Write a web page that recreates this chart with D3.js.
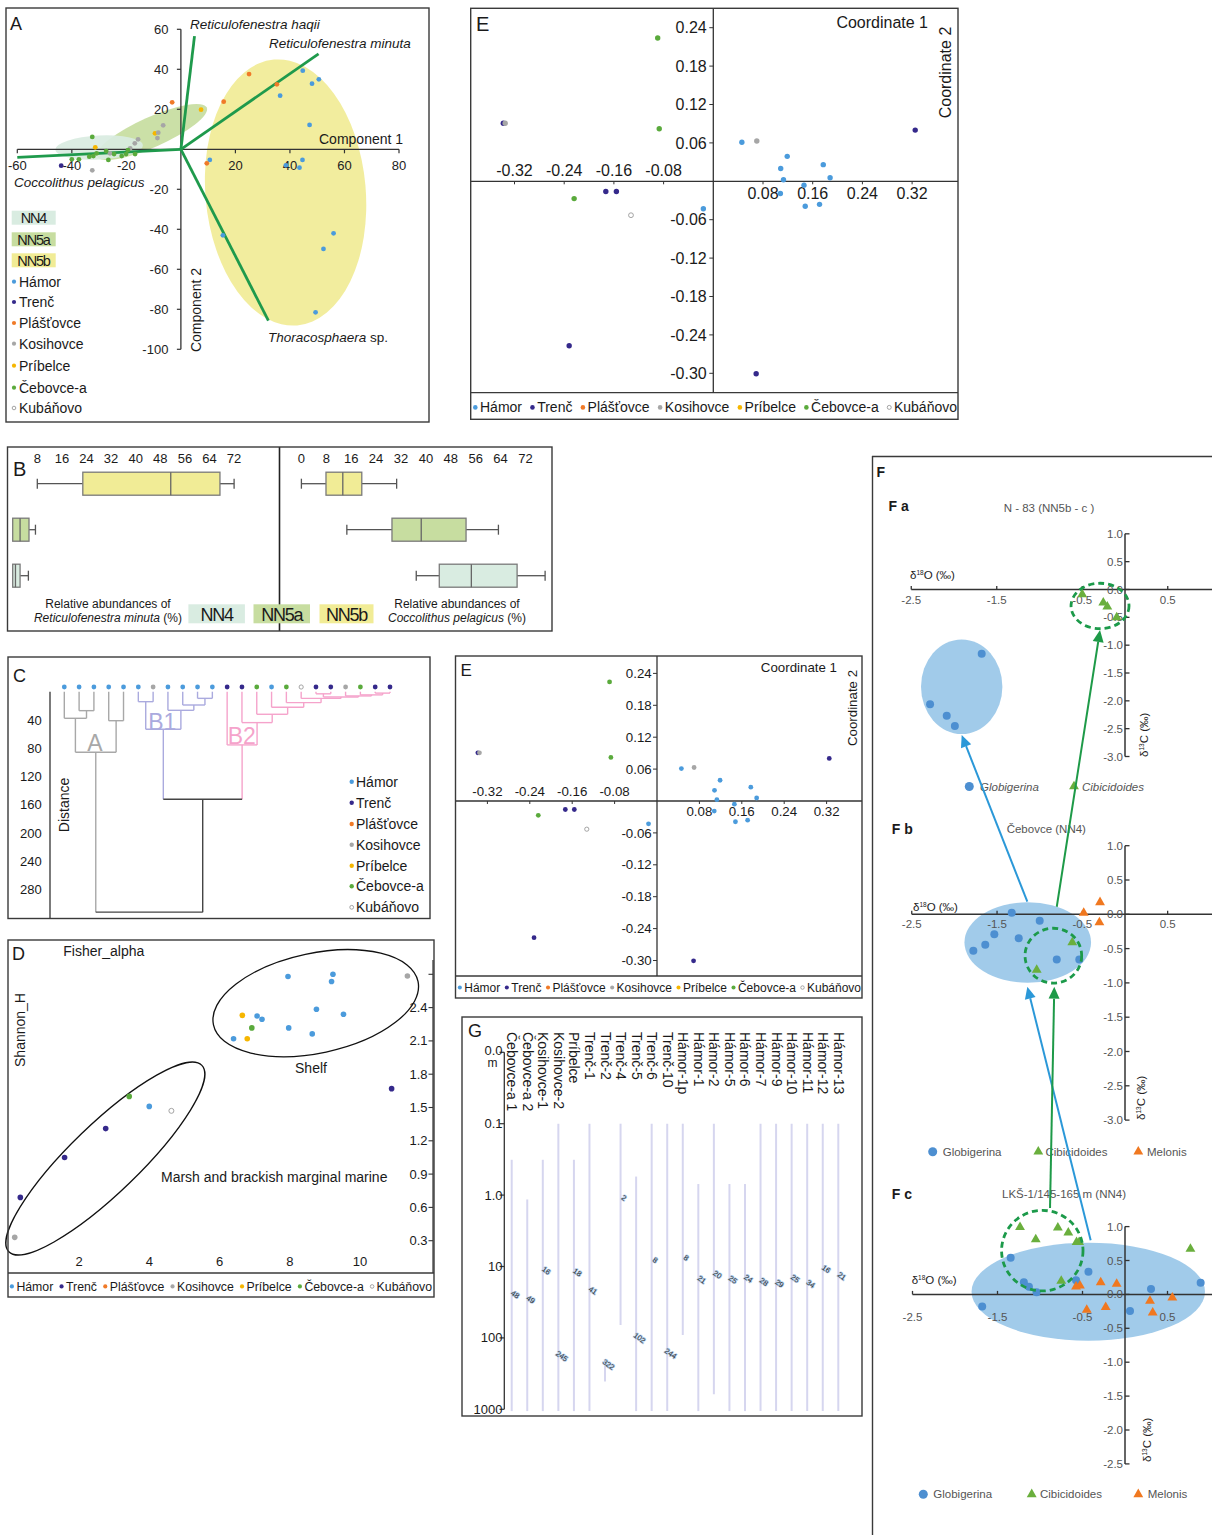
<!DOCTYPE html>
<html><head><meta charset="utf-8">
<script src="https://cdn.jsdelivr.net/npm/d3@7"></script>
<style>
body{margin:0;background:#fff;}
svg{display:block;font-family:"Liberation Sans",Arial,Helvetica,sans-serif;}
</style></head><body>
<svg id="fig" width="1212" height="1535"></svg>
<script>
// ================= DATA =================
const sites = ["Hámor","Trenč","Plášťovce","Kosihovce","Príbelce","Čebovce-a","Kubáňovo"];
const siteColors = ["#4b9bdc","#35298b","#f07a28","#a6a6a6","#f6b600","#5aaa3c","#ffffff"];
const zoneNames = ["NN4","NN5a","NN5b"];
const zoneColors = ["#d9ece1","#c7dda0","#f1ec96"];

// Panel A – PCA scores
const aSite = ["Hámor","Hámor","Hámor","Hámor","Hámor","Hámor","Hámor","Hámor","Hámor","Hámor","Hámor","Hámor","Hámor",
  "Plášťovce","Plášťovce","Plášťovce","Plášťovce","Plášťovce",
  "Príbelce","Príbelce","Príbelce",
  "Kosihovce","Kosihovce","Kosihovce","Kosihovce","Kosihovce","Kosihovce","Kosihovce","Kosihovce",
  "Trenč",
  "Čebovce-a","Čebovce-a","Čebovce-a","Čebovce-a","Čebovce-a","Čebovce-a","Čebovce-a","Čebovce-a","Čebovce-a","Čebovce-a","Čebovce-a","Čebovce-a","Čebovce-a"];
const aPC1 = [44.7,50.6,48.1,36.4,47.2,10.6,44.6,43.5,56,52.3,49.4,15.4,38.5,
  -3.2,25,35.2,15.7,9.5,
  7.4,-9.5,-31.4,
  -6.5,-8.3,-8.6,-15.7,-16.9,-18.6,-32.5,-26,
  -43.9,
  -32.5,-40,-37.4,-33.6,-32.1,-30.9,-27.4,-26.6,-24.5,-21.7,-20.1,-19.4,-16.8];
const aPC2 = [39.3,35,32.8,26.8,12.2,-5.3,-5.3,-9.2,-42,-49.8,-81.5,-43,-8,
  23.5,37.6,32.5,23.8,-7,
  19.8,8,1,
  12,8.3,5.6,5,3,0.5,-10.5,-2,
  -8.2,
  6.2,-5,-5,-3.7,-3.4,-2,-0.9,-5.3,-2.4,-3.4,-2.4,-0.4,-2.4];
const aVecName = ["Reticulofenestra haqii","Reticulofenestra minuta","Thoracosphaera sp.","Coccolithus pelagicus"];
const aVecX = [5, 50.5, 32.1, -60];
const aVecY = [56.6, 47.7, -85.7, -4];
// zone ellipses in PCA units: centre x, centre y, half-width, half-height, tilt (deg)
const aZoneCx = [-30, -10.6, 38.4];
const aZoneCy = [0.9, 8.65, -21.6];
const aZoneRx = [16.1, 22, 29.4];
const aZoneRy = [6, 7.5, 66.7];
const aZoneTilt = [-3, -24, -5];
const aXTicks = [-60,-40,-20,20,40,60,80];
const aYTicks = [60,40,20,-20,-40,-60,-80,-100];

// Panel B – box plots [min, q1, median, q3, max]
const bZones = ["NN5b","NN5a","NN4"];
const bMinuta = [[8,22.8,51.4,67.4,72],[0,0,2.4,5.3,7.4],[0,0,0.9,2.4,5.1]];
const bPelagicus = [[0,7.9,13.3,19.4,30.6],[14.6,29.1,38.5,52.9,63.3],[36.9,44.3,54.6,69.3,78.3]];
const bLeftTicks = [8,16,24,32,40,48,56,64,72];
const bRightTicks = [0,8,16,24,32,40,48,56,64,72];

// Panel C – cluster dendrogram
const cLeafSite = ["Hámor","Hámor","Hámor","Hámor","Hámor","Hámor","Kosihovce","Hámor","Hámor","Hámor","Hámor",
  "Trenč","Trenč","Čebovce-a","Hámor","Čebovce-a","Kubáňovo","Trenč","Trenč","Kosihovce","Čebovce-a","Trenč","Trenč"];
// merges: [child a, child b, distance, cluster]; node ids 23+ follow in order
const cMerges = [
  [1,2,26.8,"A"],[0,23,37.6,"A"],[3,4,41,"A"],[24,25,85.6,"A"],
  [5,6,14.1,"B1"],[9,10,9.4,"B1"],[8,28,18.8,"B1"],[7,29,26.3,"B1"],[27,30,53.1,"B1"],
  [17,18,3,"B2"],[21,22,2,"B2"],[20,33,4.5,"B2"],[19,34,6,"B2"],[32,35,7.5,"B2"],[16,36,9.5,"B2"],
  [15,37,15.5,"B2"],[14,38,22,"B2"],[13,39,31.9,"B2"],[12,40,43.7,"B2"],[11,41,75.2,"B2"],
  [31,42,152,"root"],[26,43,311.6,"root"]];
const cGroups = ["A","B1","B2","root"];
const cGroupColors = ["#a8a8a8","#aaaade","#f5a3cb","#444444"];
const cTicks = [40,80,120,160,200,240,280];

// Panel D – diversity
const dSite = ["Hámor","Hámor","Hámor","Kosihovce","Hámor","Hámor","Príbelce","Hámor","Hámor","Čebovce-a","Hámor","Hámor","Hámor","Príbelce",
  "Trenč","Čebovce-a","Hámor","Kubáňovo","Trenč","Trenč","Trenč","Kosihovce"];
const dFisher = [7.95,9.23,9.19,11.35,8.76,9.53,6.65,7.07,7.21,6.92,7.97,8.64,6.40,6.79,10.9,3.43,4.0,4.63,2.76,1.59,0.33,0.17];
const dShannon = [2.68,2.70,2.635,2.685,2.385,2.34,2.33,2.325,2.295,2.217,2.217,2.163,2.12,2.12,1.67,1.60,1.51,1.47,1.31,1.05,0.69,0.33];
const dXTicks = [2,4,6,8,10];
const dYTicks = [0.3,0.6,0.9,1.2,1.5,1.8,2.1,2.4,2.7];
const dGroupName = ["Shelf","Marsh and brackish marginal marine"];
const dGroupCx = [8.74, 2.75];
const dGroupCy = [2.44, 1.04];
const dGroupRx = [2.977, 3.82];
const dGroupRy = [0.45, 0.31];
const dGroupTilt = [-12, -44];

// Panel E – PCoA
const eSite = ["Trenč","Kosihovce","Čebovce-a","Čebovce-a","Hámor","Kosihovce","Hámor","Hámor","Hámor","Hámor","Hámor","Hámor","Hámor","Hámor","Hámor",
  "Trenč","Trenč","Trenč","Čebovce-a","Kubáňovo","Hámor","Trenč","Trenč"];
const eX = [-0.338,-0.335,-0.0895,-0.087,0.046,0.070,0.119,0.1085,0.113,0.177,0.188,0.146,0.108,0.148,0.171,0.325,-0.173,-0.156,-0.224,-0.1325,-0.016,-0.232,0.069];
const eY = [0.0906,0.0906,0.224,0.082,0.061,0.063,0.039,0.020,0.0025,0.026,0.0056,-0.006,-0.019,-0.039,-0.036,0.080,-0.016,-0.016,-0.027,-0.053,-0.043,-0.257,-0.3006];
const eXTicksNeg = [-0.32,-0.24,-0.16,-0.08];
const eXTicksPos = [0.08,0.16,0.24,0.32];
const eYTicks = [0.24,0.18,0.12,0.06,-0.06,-0.12,-0.18,-0.24,-0.30];

// Panel G – ranges on log depth scale
const gSamples = ["Čebovce-a 1","Čebovce-a 2","Kosihovce-1","Kosihovce-2","Príbelce","Trenč-1","Trenč-2","Trenč-4","Trenč-5","Trenč-6","Trenč-10",
  "Hámor-1p","Hámor-1","Hámor-2","Hámor-5","Hámor-6","Hámor-7","Hámor-9","Hámor-10","Hámor-11","Hámor-12","Hámor-13"];
const gTop = [0.32,1.15,0.32,0.1,0.32,0.1,215,0.1,0.55,0.1,0.1,0.1,0.7,0.1,0.7,0.7,0.1,0.1,0.1,0.1,0.1,0.1];
const gBottom = [1060,1060,1060,1060,1060,1060,408,66,1060,1060,1060,91,1060,617,1060,1060,1060,1060,1060,1060,1060,1060];
const gCount = ["48","49","16","245","18","41","322","2","102","8","244","8","21","20","25","24","28","29","25","34","16","21"];
const gCountDepth = [26.4,31,12.2,193,12.9,23.2,253,1.17,107,8.7,177,8.1,16.3,13.9,16.3,15.8,17.6,18.5,15.8,18.7,11.6,14.6];
const gTickVals = [0.01,0.1,1,10,100,1000];
const gTickLabels = ["0.0","0.1","1.0","10","100","1000"];

// Panel F – stable isotopes (δ18O, δ13C)
const faGlobX = [-1.676,-2.28,-2.085,-1.99];
const faGlobY = [-1.153,-2.06,-2.27,-2.45];
const faCibX = [-0.5,-0.254,-0.207,-0.097];
const faCibY = [-0.086,-0.237,-0.309,-0.5];
const fbGlobX = [-1.328,-1.0,-1.532,-1.246,-1.638,-1.778,-0.80,-0.536];
const fbGlobY = [0.023,-0.093,-0.29,-0.35,-0.443,-0.53,-0.66,-0.66];
const fbCibX = [-0.618,-1.035];
const fbCibY = [-0.41,-0.81];
const fbMelX = [-0.293,-0.484,-0.3];
const fbMelY = [0.175,0.02,-0.117];
const fcGlobX = [-1.345,-0.43,-1.19,-1.13,-1.04,-0.576,-1.68,0.306,0.059,0.89];
const fcGlobY = [0.54,0.335,0.178,0.114,0.03,0.208,-0.18,0.08,-0.245,0.173];
const fcCibX = [-1.235,-0.79,-0.667,-1.05,-0.57,-0.54,-0.75,0.77];
const fcCibY = [0.99,0.985,0.91,0.81,0.77,0.77,0.2,0.67];
const fcMelX = [-0.576,-0.53,-0.286,-0.098,-0.45,-0.227,0.294,0.326,0.557];
const fcMelY = [0.114,0.13,0.178,0.153,-0.23,-0.19,-0.097,-0.27,-0.049];
const fTitles = ["N - 83 (NN5b - c )","Čebovce (NN4)","LKŠ-1/145-165 m (NN4)"];
const fXTicks = [-2.5,-1.5,-0.5,0.5];
// zones per sub-plot a,b,c: [cx, cy, rx, ry] in ‰ units
const fGlobZone = [[-1.91,-1.746,0.476,0.85],[-1.14,-0.411,0.742,0.586],[-0.432,0.04,1.373,0.723]];
const fCibZone = [[-0.292,-0.296,0.339,0.408],[-0.84,-0.603,0.332,0.40],[-0.973,0.645,0.479,0.594]];

// ================= DRAWING =================
const svg = d3.select("#fig");
const INK = "#1a1a1a";

function colorOf(site){ return siteColors[sites.indexOf(site)]; }
function drawDot(g, x, y, site, r){
  const hollow = site === "Kubáňovo";
  g.append("circle").attr("cx",x).attr("cy",y).attr("r",hollow ? r-0.3 : r)
    .attr("fill", hollow ? "#fff" : colorOf(site))
    .attr("stroke", hollow ? "#9a9a9a" : "none").attr("stroke-width",0.9);
}
function txt(g, x, y, s, size, o){
  o = o || {};
  const t = g.append("text").attr("x",x).attr("y",y).attr("font-size",size)
    .attr("fill", o.fill || INK).text(s);
  if(o.anchor) t.attr("text-anchor",o.anchor);
  if(o.italic) t.attr("font-style","italic");
  if(o.bold) t.attr("font-weight","bold");
  if(o.ls != null) t.attr("letter-spacing",o.ls);
  if(o.rotate != null) t.attr("transform",`rotate(${o.rotate},${x},${y})`);
  return t;
}
function line(g,x1,y1,x2,y2,color,w){
  return g.append("line").attr("x1",x1).attr("y1",y1).attr("x2",x2).attr("y2",y2)
    .attr("stroke",color||"#333").attr("stroke-width",w||1.2);
}
function frame(x0,y0,x1,y1){
  svg.append("rect").attr("x",x0).attr("y",y0).attr("width",x1-x0).attr("height",y1-y0)
    .attr("fill","none").attr("stroke","#3a3a3a").attr("stroke-width",1.4);
}
function legendRow(g, x0, x1, base, size, r){
  const items = sites.map(s => {
    const t = txt(g, 0, base, s, size);
    return {s, t, w: t.node().getComputedTextLength()};
  });
  const sumW = d3.sum(items, d => d.w);
  const firstText = x0 + 2*r + 3.2;
  const gap = (x1 - firstText - sumW) / (items.length - 1);
  let xs = firstText;
  items.forEach((d,i) => {
    d.t.attr("x", xs);
    drawDot(g, xs - r - 2.4, base - size*0.33, d.s, r);
    xs += d.w + gap;
  });
}

// ---------- Panel A ----------
(function(){
  const g = svg.append("g");
  frame(6,8,429,422);
  const x = d3.scaleLinear().domain([-60,80]).range([17.3,399]);
  const y = d3.scaleLinear().domain([-100,60]).range([349.3,29.3]);
  const kx = x(1)-x(0), ky = y(0)-y(1);
  [2,1,0].forEach(i => {
    const cx = x(aZoneCx[i]), cy = y(aZoneCy[i]);
    g.append("ellipse").attr("cx",cx).attr("cy",cy)
      .attr("rx",aZoneRx[i]*kx).attr("ry",aZoneRy[i]*ky)
      .attr("transform",`rotate(${aZoneTilt[i]},${cx},${cy})`)
      .attr("fill",zoneColors[i]).attr("opacity",0.92);
  });
  const x0 = x(0), y0 = y(0);
  line(g, x(-60), y0, x(80), y0, "#333", 1.3);
  aXTicks.forEach(v => {
    line(g, x(v), y0, x(v), y0+4, "#333", 1.2);
    txt(g, x(v), y0+20.5, String(v), 13, {anchor:"middle", fill:"#222"});
  });
  line(g, x0, y(60), x0, y(-100), "#333", 1.3);
  aYTicks.forEach(v => {
    line(g, x0-4, y(v), x0, y(v), "#333", 1.2);
    txt(g, x0-12.5, y(v)+4.5, String(v), 13, {anchor:"end", fill:"#222"});
  });
  aVecX.forEach((vx,i) => line(g, x0, y0, x(vx), y(aVecY[i]), "#1f9a4c", 2.8));
  aSite.forEach((s,i) => drawDot(g, x(aPC1[i]), y(aPC2[i]), s, 2.4));
  txt(g, 10, 30, "A", 18);
  txt(g, 190, 29, aVecName[0], 13.5, {italic:true});
  txt(g, 269, 48, aVecName[1], 13.5, {italic:true});
  const th = txt(g, 268, 341.5, "", 13.5);
  th.append("tspan").attr("font-style","italic").text("Thoracosphaera");
  th.append("tspan").text(" sp.");
  txt(g, 14, 187, aVecName[3], 13.5, {italic:true});
  txt(g, 319, 143.5, "Component 1", 14);
  txt(g, 200.5, 310, "Component 2", 14, {anchor:"middle", rotate:-90});
  const patchY = [210.7, 232.3, 253.3];
  zoneNames.forEach((z,i) => {
    g.append("rect").attr("x",11.7).attr("y",patchY[i]).attr("width",44).attr("height",14)
      .attr("fill",zoneColors[i]);
    txt(g, 33.5, patchY[i]+12.3, z, 14.5, {anchor:"middle", ls:-1.2});
  });
  const legY = [281.7,302,323,343.7,365.7,387.7,408];
  sites.forEach((s,i) => {
    drawDot(g, 14, legY[i], s, 2.1);
    txt(g, 19, legY[i]+5, s, 14);
  });
})();

// ---------- Panel E (used twice) ----------
function drawE(c){
  const g = svg.append("g");
  frame(c.fx0, c.fy0, c.fx1, c.fy1);
  const x = d3.scaleLinear().domain([0,0.08]).range([c.ox, c.ox + c.k8]);
  const y = d3.scaleLinear().domain([0,0.06]).range([c.oy, c.oy - c.k6]);
  line(g, c.fx0, c.legY, c.fx1, c.legY, "#3a3a3a", 1.3);
  line(g, c.fx0, c.oy, c.fx1, c.oy, "#333", 1.3);
  line(g, c.ox, c.fy0, c.ox, c.legY, "#333", 1.3);
  eXTicksNeg.forEach(v => {
    line(g, x(v), c.oy, x(v), c.oy+3, "#333", 1);
    txt(g, x(v), c.oy + c.negDy, v.toFixed(2), c.fs, {anchor:"middle"});
  });
  eXTicksPos.forEach(v => {
    line(g, x(v), c.oy, x(v), c.oy+3, "#333", 1);
    txt(g, x(v), c.oy + c.posDy, v.toFixed(2), c.fs, {anchor:"middle"});
  });
  eYTicks.forEach(v => {
    line(g, c.ox-4, y(v), c.ox, y(v), "#333", 1);
    txt(g, c.ox - c.yLabDx, y(v) + c.fs*0.35, v.toFixed(2), c.fs, {anchor:"end"});
  });
  eSite.forEach((s,i) => drawDot(g, x(eX[i]), y(eY[i]), s, c.r));
  txt(g, c.eX, c.eY, "E", c.eFs);
  txt(g, c.c1X, c.c1Y, "Coordinate 1", c.cFs, {anchor:"end"});
  txt(g, c.c2X, c.c2Y, "Coordinate 2", c.cFs, {anchor:"middle", rotate:-90});
  legendRow(g, c.fx0 + 1.5, c.fx1 - 1, c.legBase, c.legFs, c.r*0.85);
}
drawE({fx0:470.7, fy0:8.3, fx1:958, fy1:419.3, legY:392.7, ox:713.3, oy:181.3, k8:49.7, k6:38.4,
  fs:16, negDy:-5.5, posDy:18, yLabDx:6.6, r:2.7, eX:476, eY:30.5, eFs:20,
  c1X:928, c1Y:27.5, c2X:950.5, c2Y:72.5, cFs:16, legBase:412, legFs:14});
drawE({fx0:455.5, fy0:656, fx1:862, fy1:998, legY:976, ox:657, oy:801, k8:42.4, k6:31.9,
  fs:13.3, negDy:-5.5, posDy:15, yLabDx:5.3, r:2.4, eX:460.5, eY:676, eFs:17,
  c1X:837, c1Y:672, c2X:856.5, c2Y:708, cFs:13.3, legBase:991.5, legFs:12});

// ---------- Panel B ----------
(function(){
  const g = svg.append("g");
  frame(7.5,447,552,631);
  line(g, 279.5, 447, 279.5, 631, "#222", 1.6);
  const band = d3.scaleBand().domain(bZones).range([460.7,598.7]).paddingInner(0.5).paddingOuter(0.25);
  const xl = d3.scaleLinear().domain([0,8]).range([12.7,37.3]);
  const xr = d3.scaleLinear().domain([0,8]).range([301.4,326.3]);
  function boxes(x, stats){
    bZones.forEach((z,i) => {
      const s = stats[i];
      const y0 = band(z), h = band.bandwidth(), yc = y0 + h/2;
      const col = zoneColors[zoneNames.indexOf(z)];
      if(s[0] < s[1]){
        line(g, x(s[0]), yc, x(s[1]), yc, "#555", 1.3);
        line(g, x(s[0]), yc-5, x(s[0]), yc+5, "#555", 1.3);
      }
      line(g, x(s[3]), yc, x(s[4]), yc, "#555", 1.3);
      line(g, x(s[4]), yc-5, x(s[4]), yc+5, "#555", 1.3);
      g.append("rect").attr("x",x(s[1])).attr("y",y0).attr("width",x(s[3])-x(s[1])).attr("height",h)
        .attr("fill",col).attr("stroke","#7a7a7a").attr("stroke-width",1.3);
      line(g, x(s[2]), y0, x(s[2]), y0+h, "#666", 1.3);
    });
  }
  boxes(xl, bMinuta);
  boxes(xr, bPelagicus);
  bLeftTicks.forEach(v => txt(g, xl(v), 463, String(v), 13, {anchor:"middle"}));
  bRightTicks.forEach(v => txt(g, xr(v), 463, String(v), 13, {anchor:"middle"}));
  txt(g, 13, 476, "B", 20);
  txt(g, 108, 607.5, "Relative abundances of", 12, {anchor:"middle"});
  const t1 = txt(g, 108, 622, "", 12, {anchor:"middle"});
  t1.append("tspan").attr("font-style","italic").text("Reticulofenestra minuta");
  t1.append("tspan").text(" (%)");
  txt(g, 457, 607.5, "Relative abundances of", 12, {anchor:"middle"});
  const t2 = txt(g, 457, 622, "", 12, {anchor:"middle"});
  t2.append("tspan").attr("font-style","italic").text("Coccolithus pelagicus");
  t2.append("tspan").text(" (%)");
  const px = [188.4, 253.5, 319.5], pw = [56.5, 56.5, 54];
  zoneNames.forEach((z,i) => {
    g.append("rect").attr("x",px[i]).attr("y",604.3).attr("width",pw[i]).attr("height",19)
      .attr("fill",zoneColors[i]);
    txt(g, px[i]+pw[i]/2, 620.5, z, 18, {anchor:"middle", ls:-1.2});
  });
})();

// ---------- Panel C ----------
(function(){
  const g = svg.append("g");
  frame(8,657,430,918.5);
  const y = d3.scaleLinear().domain([0,40]).range([691.7,720]);
  const xl = d3.scalePoint().domain(d3.range(cLeafSite.length)).range([64.3,390]);
  const n = cLeafSite.length;
  const pos = [], hgt = [], grp = [];
  for(let i=0;i<n;i++){ pos[i] = xl(i); hgt[i] = 0; grp[i] = null; }
  const colOf = gname => cGroupColors[cGroups.indexOf(gname)];
  cMerges.forEach((m,j) => {
    const id = n + j;
    pos[id] = (pos[m[0]] + pos[m[1]])/2; hgt[id] = m[2]; grp[id] = m[3];
  });
  cMerges.forEach((m,j) => {
    const id = n + j, col = colOf(m[3]);
    [m[0], m[1]].forEach(ch => {
      const cc = grp[ch] ? colOf(grp[ch]) : col;
      line(g, pos[ch], y(hgt[ch]), pos[ch], y(hgt[id]), cc, 1.4);
    });
    line(g, pos[m[0]], y(hgt[id]), pos[m[1]], y(hgt[id]), col, 1.4);
  });
  cLeafSite.forEach((s,i) => drawDot(g, xl(i), 687, s, 2.4));
  line(g, 50, 691.7, 50, 918.5, "#333", 1.3);
  cTicks.forEach(v => txt(g, 41.7, y(v)+4.5, String(v), 13, {anchor:"end"}));
  txt(g, 68.5, 805, "Distance", 14, {anchor:"middle", rotate:-90});
  txt(g, 13, 682, "C", 18);
  txt(g, 95, 751, "A", 23, {anchor:"middle", fill:colOf("A")});
  txt(g, 162.3, 729.8, "B1", 23, {anchor:"middle", fill:colOf("B1")});
  txt(g, 241.7, 744.2, "B2", 23, {anchor:"middle", fill:colOf("B2")});
  const legY = [781.7,802.7,824,844.7,865.7,886.3,907.3];
  sites.forEach((s,i) => {
    drawDot(g, 351.7, legY[i], s, 2.2);
    txt(g, 356, legY[i]+5, s, 14);
  });
})();

// ---------- Panel D ----------
(function(){
  const g = svg.append("g");
  frame(8,940,434,1297);
  line(g, 8, 1273, 434, 1273, "#3a3a3a", 1.3);
  const x = d3.scaleLinear().domain([0,2]).range([8.75,79]);
  const y = d3.scaleLinear().domain([0,0.3]).range([1274,1240.7]);
  const kx = x(1)-x(0), ky = y(0)-y(1);
  dGroupName.forEach((nm,i) => {
    const cx = x(dGroupCx[i]), cy = y(dGroupCy[i]);
    g.append("ellipse").attr("cx",cx).attr("cy",cy).attr("rx",dGroupRx[i]*kx).attr("ry",dGroupRy[i]*ky)
      .attr("transform",`rotate(${dGroupTilt[i]},${cx},${cy})`)
      .attr("fill","none").attr("stroke","#111").attr("stroke-width",1.3);
  });
  line(g, 433, 960, 433, 1273, "#333", 1.2);
  dYTicks.forEach(v => {
    line(g, 428.5, y(v), 433, y(v), "#333", 1.1);
    if(v < 2.6) txt(g, 427.5, y(v)+4.5, v.toFixed(1), 13, {anchor:"end"});
  });
  dXTicks.forEach(v => txt(g, x(v), 1266, String(v), 13, {anchor:"middle"}));
  dSite.forEach((s,i) => drawDot(g, x(dFisher[i]), y(dShannon[i]), s, 2.8));
  txt(g, 12, 959.5, "D", 18);
  txt(g, 63.3, 956, "Fisher_alpha", 14);
  txt(g, 25, 1030, "Shannon_H", 14, {anchor:"middle", rotate:-90});
  txt(g, 311, 1073, dGroupName[0], 14, {anchor:"middle"});
  txt(g, 161, 1182, dGroupName[1], 14);
  legendRow(g, 9, 432, 1290.5, 12.3, 2.1);
})();

// ---------- Panel G ----------
(function(){
  const g = svg.append("g");
  frame(462,1017,862,1416);
  const y = d3.scaleLog().domain([0.01,1000]).range([1052.3,1409.3]);
  const x = d3.scalePoint().domain(gSamples).range([511.7,838.3]);
  line(g, 504.3, y(0.01), 504.3, y(1000), "#333", 1.3);
  gTickVals.forEach((v,i) => {
    line(g, 499.5, y(v), 504.3, y(v), "#333", 1.2);
    txt(g, 502.5, y(v) + (i === 0 ? 3 : 4.5), gTickLabels[i], 13, {anchor:"end"});
  });
  txt(g, 492.5, 1067, "m", 12, {anchor:"middle"});
  gSamples.forEach((s,i) => {
    line(g, x(s), y(gTop[i]), x(s), y(gBottom[i]), "#d6d6ef", 2);
  });
  gSamples.forEach((s,i) => {
    txt(g, x(s)-4.5, 1032, s, 14, {rotate:90});
  });
  gSamples.forEach((s,i) => {
    const cx = x(s)+2, cy = y(gCountDepth[i]);
    g.append("text").attr("x",cx).attr("y",cy).attr("font-size",7.5).attr("text-anchor","middle")
      .attr("fill","#333").attr("stroke","#b6d0ec").attr("stroke-width",1.4).attr("paint-order","stroke")
      .attr("transform",`rotate(35,${cx},${cy})`).text(gCount[i]);
  });
  txt(g, 468, 1037, "G", 18);
})();

// ---------- Panel F ----------
(function(){
  const g = svg.append("g");
  line(g, 872, 456.5, 1212, 456.5, "#3a3a3a", 1.4);
  line(g, 872.5, 456, 872.5, 1535, "#3a3a3a", 1.4);
  txt(g, 876.5, 477, "F", 14, {bold:true});
  const GREY = "#555";
  const BLUE = "#4d8fd1", GREEN = "#6aaf3d", ORANGE = "#f07820";
  const tri = d3.symbol().type(d3.symbolTriangle).size(42);
  const subs = [
    {ox:1125, oy:589.5, kx:85.5, ky:55.67, yTop:1.0, yBot:-3.0, xLabBase:604, title:fTitles[0], titleX:1049, titleY:512,
     tag:"F a", tagX:888.5, tagY:510.5, dO:[910,579], dC:[1147.5,757], glob:[faGlobX,faGlobY], cib:[faCibX,faCibY], mel:null,
     leg:{y:786.5, gx:969.3, gtx:980, cx:1074, ctx:1082, italic:true}},
    {ox:1125, oy:914.3, kx:85.3, ky:68.6, yTop:1.0, yBot:-3.0, xLabBase:927.5, title:fTitles[1], titleX:1046.3, titleY:833,
     tag:"F b", tagX:891.7, tagY:834, dO:[913,911], dC:[1144.5,1120], glob:[fbGlobX,fbGlobY], cib:[fbCibX,fbCibY], mel:[fbMelX,fbMelY],
     leg:{y:1151.7, gx:932.7, gtx:942.7, cx:1038.3, ctx:1045.5, mx:1138.3, mtx:1147, italic:false}},
    {ox:1125, oy:1294.4, kx:85, ky:67.8, yTop:1.0, yBot:-2.5, xLabBase:1321, title:fTitles[2], titleX:1064, titleY:1198,
     tag:"F c", tagX:891.7, tagY:1199, dO:[911.7,1284], dC:[1150.5,1462], glob:[fcGlobX,fcGlobY], cib:[fcCibX,fcCibY], mel:[fcMelX,fcMelY],
     leg:{y:1494.3, gx:923.3, gtx:933.3, cx:1031.7, ctx:1040, mx:1138.3, mtx:1147.7, italic:false}}
  ];
  const scales = [];
  subs.forEach((c,k) => {
    const x = d3.scaleLinear().domain([0,1]).range([c.ox, c.ox + c.kx]);
    const y = d3.scaleLinear().domain([0,1]).range([c.oy, c.oy - c.ky]);
    scales.push({x,y});
    const z = fGlobZone[k];
    g.append("ellipse").attr("cx",x(z[0])).attr("cy",y(z[1])).attr("rx",z[2]*c.kx).attr("ry",z[3]*c.ky)
      .attr("fill","#9cc8e9").attr("opacity",0.95);
    line(g, x(-2.5), c.oy, 1212, c.oy, "#333", 1.5);
    fXTicks.forEach(v => {
      line(g, x(v), c.oy-3.5, x(v), c.oy, "#333", 1.3);
      txt(g, x(v), c.xLabBase, v.toFixed(1), 11.5, {anchor:"middle", fill:GREY});
    });
    line(g, c.ox, y(c.yTop), c.ox, y(c.yBot), "#333", 1.5);
    d3.range(c.yBot, c.yTop + 0.01, 0.5).forEach(v => {
      line(g, c.ox, y(v), c.ox+4.5, y(v), "#333", 1.3);
      txt(g, c.ox-2, y(v)+4, (Math.abs(v) < 1e-9 ? 0 : v).toFixed(1), 11.5, {anchor:"end", fill:GREY});
    });
    const o = txt(g, c.dO[0], c.dO[1], "δ", 11.5, {fill:"#222"});
    o.append("tspan").attr("font-size",6.5).attr("dy",-4).text("18");
    o.append("tspan").attr("dy",4).text("O (‰)");
    const cc = txt(g, c.dC[0], c.dC[1], "δ", 11.5, {fill:"#222", rotate:-90});
    cc.append("tspan").attr("font-size",6.5).attr("dy",-4).text("13");
    cc.append("tspan").attr("dy",4).text("C (‰)");
    txt(g, c.titleX, c.titleY, c.title, 11.5, {anchor:"middle", fill:GREY});
    txt(g, c.tagX, c.tagY, c.tag, 14, {bold:true});
    c.glob[0].forEach((v,i) => g.append("circle").attr("cx",x(v)).attr("cy",y(c.glob[1][i])).attr("r",4).attr("fill",BLUE));
    if(c.mel) c.mel[0].forEach((v,i) => g.append("path").attr("d",tri)
      .attr("transform",`translate(${x(v)},${y(c.mel[1][i])})`).attr("fill",ORANGE));
    c.cib[0].forEach((v,i) => g.append("path").attr("d",tri)
      .attr("transform",`translate(${x(v)},${y(c.cib[1][i])})`).attr("fill",GREEN));
    const d = fCibZone[k];
    g.append("ellipse").attr("cx",x(d[0])).attr("cy",y(d[1])).attr("rx",d[2]*c.kx).attr("ry",d[3]*c.ky)
      .attr("fill","none").attr("stroke","#1c9a4a").attr("stroke-width",2.8).attr("stroke-dasharray","6,4");
    const L = c.leg;
    g.append("circle").attr("cx",L.gx).attr("cy",L.y).attr("r",4.5).attr("fill",BLUE);
    txt(g, L.gtx, L.y+4, "Globigerina", 11.5, {fill:GREY, italic:L.italic});
    g.append("path").attr("d",tri).attr("transform",`translate(${L.cx},${L.y})`).attr("fill",GREEN);
    txt(g, L.ctx, L.y+4, "Cibicidoides", 11.5, {fill:GREY, italic:L.italic});
    if(L.mx){
      g.append("path").attr("d",tri).attr("transform",`translate(${L.mx},${L.y})`).attr("fill",ORANGE);
      txt(g, L.mtx, L.y+4, "Melonis", 11.5, {fill:GREY});
    }
  });
  function arrow(x1,y1,x2,y2,color){
    const a = Math.atan2(y2-y1, x2-x1), L = 12, W = 5.5;
    const bx = x2 - L*Math.cos(a), by = y2 - L*Math.sin(a);
    line(g, x1, y1, bx, by, color, 2);
    g.append("path").attr("d",`M${x2},${y2}L${bx + W*Math.sin(a)},${by - W*Math.cos(a)}L${bx - W*Math.sin(a)},${by + W*Math.cos(a)}Z`)
      .attr("fill",color);
  }
  const [A,B,C] = scales;
  arrow(B.x(-1.145), B.y(0.184), A.x(-1.91), A.y(-2.614), "#2b98d8");
  arrow(B.x(-0.80), B.y(0.11), A.x(-0.292), A.y(-0.727), "#1e9a48");
  arrow(C.x(-0.404), C.y(0.80), B.x(-1.145), B.y(-1.055), "#2b98d8");
  arrow(C.x(-0.882), C.y(1.274), B.x(-0.829), B.y(-1.055), "#1e9a48");
})();
</script>
</body></html>
